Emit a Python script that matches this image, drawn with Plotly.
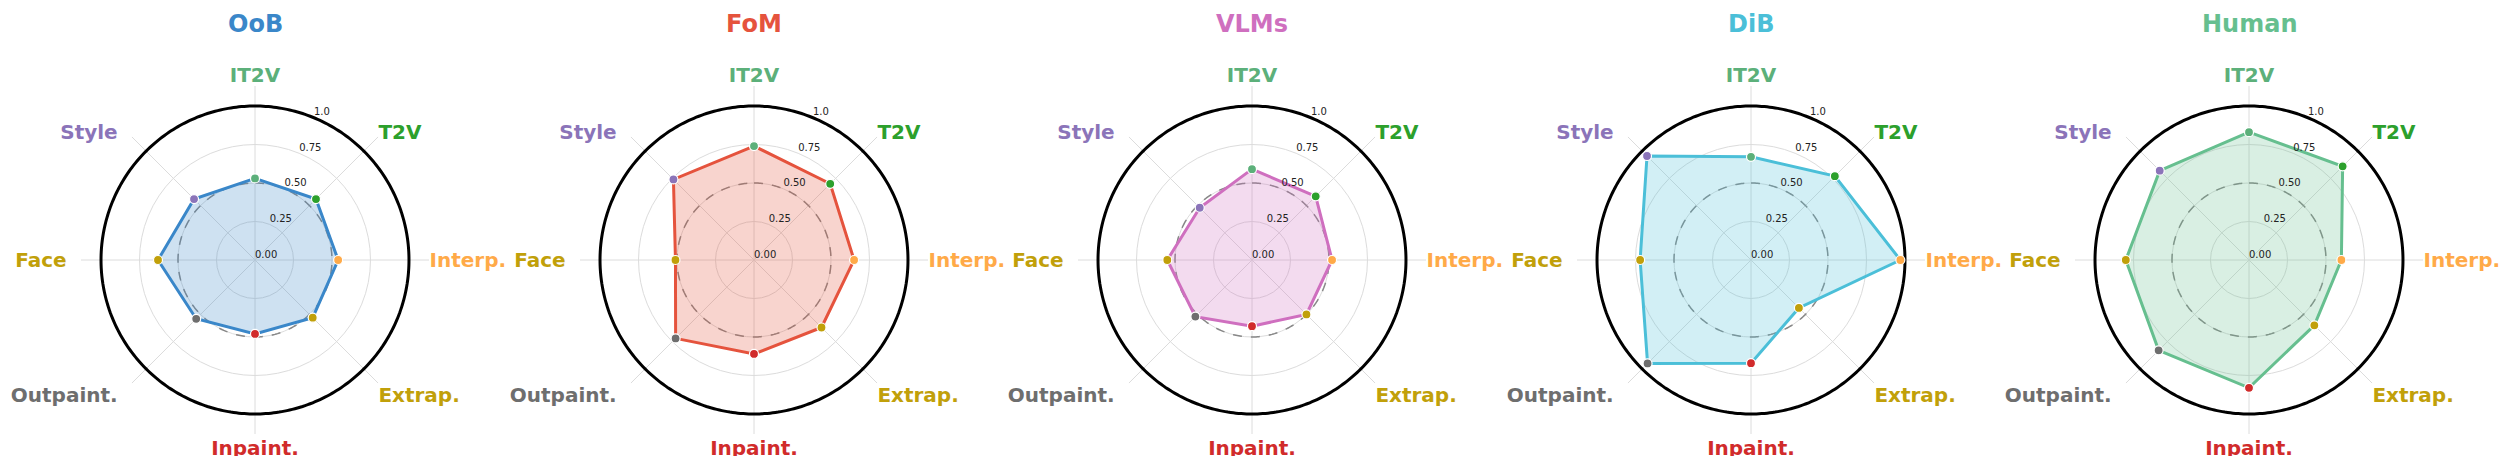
"""
Radar charts comparing evaluators across the eight task categories.
"""

import numpy as np
import plotly.graph_objects as go

# Categories, clockwise from the top
categories = ["IT2V", "T2V", "Interp.", "Extrap.", "Inpaint.", "Outpaint.", "Face", "Style"]
category_colors = ["#5CB07A", "#2CA02C", "#FFAA48", "#C1A00A", "#D12B2B", "#6E6E6E", "#C1A00A", "#8B74B9"]

# Panel names and their colours
panels = ["OoB", "FoM", "VLMs", "DiB", "Human"]
panel_colors = ["#3A87C9", "#E5533D", "#CF6FBF", "#4BBFD8", "#66BF8F"]
panel_fills = ["rgba(58,135,201,0.25)", "rgba(229,83,61,0.25)", "rgba(207,111,191,0.25)",
               "rgba(75,191,216,0.25)", "rgba(102,191,143,0.25)"]

# Scores per panel, same order as categories
oob = [0.53, 0.56, 0.54, 0.53, 0.48, 0.54, 0.63, 0.56]
fom = [0.74, 0.70, 0.65, 0.62, 0.61, 0.72, 0.51, 0.74]
vlms = [0.59, 0.585, 0.52, 0.50, 0.43, 0.52, 0.55, 0.48]
dib = [0.67, 0.77, 0.97, 0.44, 0.67, 0.95, 0.72, 0.955]
human = [0.83, 0.86, 0.60, 0.60, 0.83, 0.83, 0.80, 0.82]
scores = [oob, fom, vlms, dib, human]

# Radial ticks
r_tickvals = [0, 0.25, 0.5, 0.75, 1.0]
r_ticktext = ["0.00", "0.25", "0.50", "0.75", "1.0"]
ref_level = 0.5
outer_level = 1.0
r_max = 1.13
r_label_theta = 22.5

W, H = 2509, 456
centers_px = [247, 746, 1244, 1743, 2241]
center_y = 252
half = 174

angles = [i * 360 / len(categories) for i in range(len(categories))]
ring_theta = np.linspace(0, 360, 361)
font_family = "DejaVu Sans"
NB = "\u00a0"

# left-hand labels sit a bit further out from the circle
pads = ["", "", "", "", "", NB * 2, NB * 2, NB * 2]
angular_text = [f"<span style='color:{col}'>{cat}{pad}</span>"
                for cat, col, pad in zip(categories, category_colors, pads)]

fig = go.Figure()
layout = {}

for i, (name, vals) in enumerate(zip(panels, scores)):
    key = "polar" if i == 0 else f"polar{i + 1}"

    # Outer black ring and dashed reference ring
    fig.add_trace(go.Scatterpolar(
        r=[outer_level] * len(ring_theta), theta=ring_theta, mode="lines",
        line=dict(color="black", width=3), hoverinfo="skip", showlegend=False, subplot=key
    ))
    fig.add_trace(go.Scatterpolar(
        r=[ref_level] * len(ring_theta), theta=ring_theta, mode="lines",
        line=dict(color="#888888", width=1.5, dash="dash"), hoverinfo="skip",
        showlegend=False, subplot=key
    ))

    # Filled polygon (closed)
    fig.add_trace(go.Scatterpolar(
        r=vals + vals[:1], theta=angles + angles[:1], mode="lines",
        fill="toself", fillcolor=panel_fills[i],
        line=dict(color=panel_colors[i], width=3),
        name=name, showlegend=False, subplot=key
    ))
    # Category coloured markers
    fig.add_trace(go.Scatterpolar(
        r=vals, theta=angles, mode="markers",
        marker=dict(color=category_colors, size=9, line=dict(color="white", width=1.2)),
        showlegend=False, subplot=key
    ))

    # Radial tick labels
    fig.add_trace(go.Scatterpolar(
        r=r_tickvals, theta=[r_label_theta] * len(r_tickvals), mode="text",
        text=r_ticktext, textposition="top right",
        textfont=dict(family=font_family, size=10, color="#222222"),
        hoverinfo="skip", showlegend=False, subplot=key
    ))

    c = centers_px[i]
    layout[key] = dict(
        domain=dict(x=[(c - half) / W, (c + half) / W],
                    y=[(H - center_y - half) / H, (H - center_y + half) / H]),
        bgcolor="white",
        radialaxis=dict(
            range=[0, r_max], tickmode="array", tickvals=r_tickvals,
            showticklabels=False, showline=False, ticks="",
            gridcolor="#dcdcdc", gridwidth=1,
        ),
        angularaxis=dict(
            direction="clockwise", rotation=90, thetaunit="degrees",
            tickmode="array", tickvals=angles, ticktext=angular_text,
            tickfont=dict(family=font_family, size=20, weight="bold"),
            showline=False, ticks="", gridcolor="#dcdcdc", gridwidth=1,
        ),
    )

    fig.add_annotation(
        x=c / W, y=(H - 16) / H, xref="paper", yref="paper",
        xanchor="center", yanchor="middle",
        text=f"<b>{name}</b>", showarrow=False,
        font=dict(family=font_family, size=24, color=panel_colors[i]),
    )

fig.update_layout(
    **layout,
    width=W, height=H,
    margin=dict(l=0, r=0, t=0, b=0),
    paper_bgcolor="white",
    plot_bgcolor="white",
)

fig.write_html("out.html")
